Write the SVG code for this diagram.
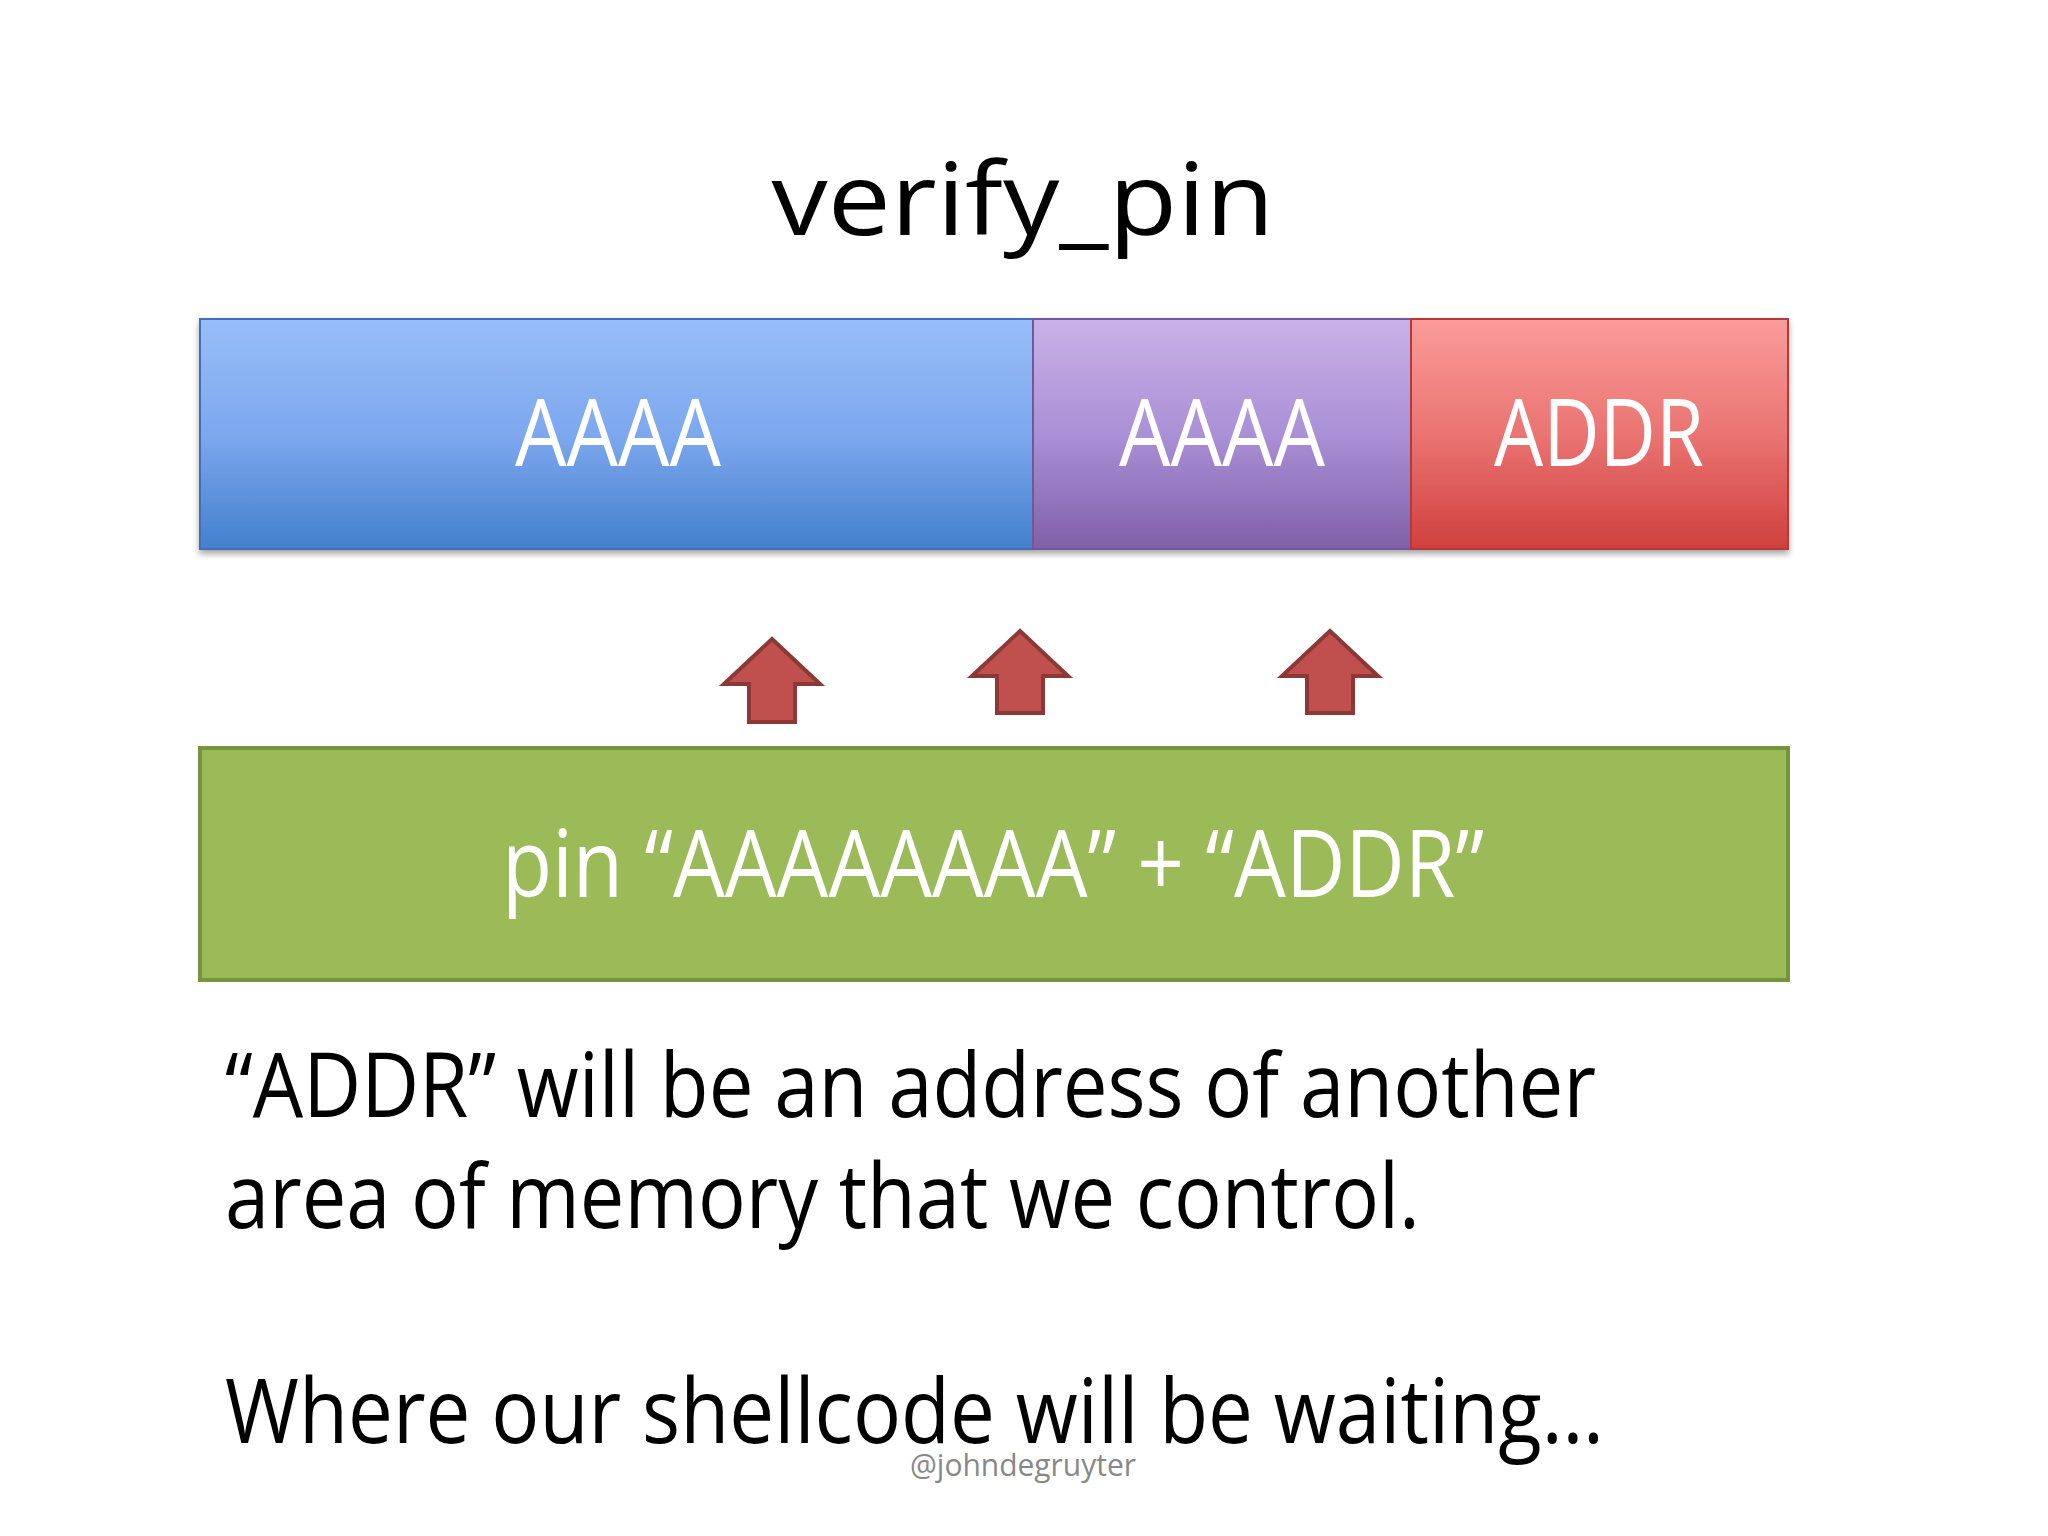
<svg xmlns="http://www.w3.org/2000/svg" width="2048" height="1536" viewBox="0 0 2048 1536">
<defs>
<linearGradient id="gb" x1="0" y1="0" x2="0" y2="1"><stop offset="0" stop-color="#98BEF9"/><stop offset="0.5" stop-color="#7DA8EE"/><stop offset="1" stop-color="#4380CD"/></linearGradient>
<linearGradient id="gp" x1="0" y1="0" x2="0" y2="1"><stop offset="0" stop-color="#C9B2E8"/><stop offset="0.5" stop-color="#AA90D6"/><stop offset="1" stop-color="#8060A8"/></linearGradient>
<linearGradient id="gr" x1="0" y1="0" x2="0" y2="1"><stop offset="0" stop-color="#FA9C9A"/><stop offset="0.5" stop-color="#EA7472"/><stop offset="1" stop-color="#D0403D"/></linearGradient>
<filter id="sh" x="-5%" y="-5%" width="110%" height="120%"><feDropShadow dx="0" dy="4" stdDeviation="3" flood-opacity="0.35"/></filter>
</defs>
<style>
text{font-family:"Open Sans","Noto Sans","Liberation Sans",sans-serif}
.w{fill:#fff;text-anchor:middle}
.b{fill:#000}
.arr{fill:#C0504D;stroke:#8C3836;stroke-width:4;stroke-linejoin:miter}
</style>
<rect width="2048" height="1536" fill="#fff"/>
<text id="title" class="b" x="1023" y="235" font-size="100" text-anchor="middle" textLength="503" lengthAdjust="spacingAndGlyphs">verify_pin</text>
<g id="bar" filter="url(#sh)">
<g id="n1"><rect x="200" y="319" width="833" height="230" fill="url(#gb)" stroke="#3F6FB5" stroke-width="2"/><text class="w" x="618" y="466" font-size="94" textLength="206" lengthAdjust="spacingAndGlyphs">AAAA</text></g>
<g id="n2"><rect x="1033" y="319" width="378" height="230" fill="url(#gp)" stroke="#71589A" stroke-width="2"/><text class="w" x="1222" y="466" font-size="94" textLength="206" lengthAdjust="spacingAndGlyphs">AAAA</text></g>
<g id="n3"><rect x="1411" y="319" width="377" height="230" fill="url(#gr)" stroke="#B13A38" stroke-width="2"/><text class="w" x="1599" y="466" font-size="94" textLength="210" lengthAdjust="spacingAndGlyphs">ADDR</text></g>
</g>
<g id="connectors">
<path class="arr" d="M772 639 L820 684 L795 684 L795 722 L749 722 L749 684 L724 684 Z"/>
<path class="arr" d="M1020 631 L1068 676 L1043 676 L1043 713 L997 713 L997 676 L972 676 Z"/>
<path class="arr" d="M1330 631 L1378 676 L1353 676 L1353 713 L1307 713 L1307 676 L1282 676 Z"/>
</g>
<g id="pin"><rect x="200" y="748" width="1588" height="232" fill="#9BBB59" stroke="#77933C" stroke-width="4"/><text class="w" x="993" y="897" font-size="94" textLength="982" lengthAdjust="spacingAndGlyphs">pin “AAAAAAAA” + “ADDR”</text></g>
<text class="b" x="225" y="1117" font-size="90" textLength="1371" lengthAdjust="spacingAndGlyphs">“ADDR” will be an address of another</text>
<text class="b" x="225" y="1228" font-size="90" textLength="1195" lengthAdjust="spacingAndGlyphs">area of memory that we control.</text>
<text class="b" x="225" y="1443" font-size="90" textLength="1379" lengthAdjust="spacingAndGlyphs">Where our shellcode will be waiting…</text>
<text x="1023" y="1476" font-size="31" fill="#888" text-anchor="middle" textLength="226" lengthAdjust="spacingAndGlyphs">@johndegruyter</text>
</svg>
